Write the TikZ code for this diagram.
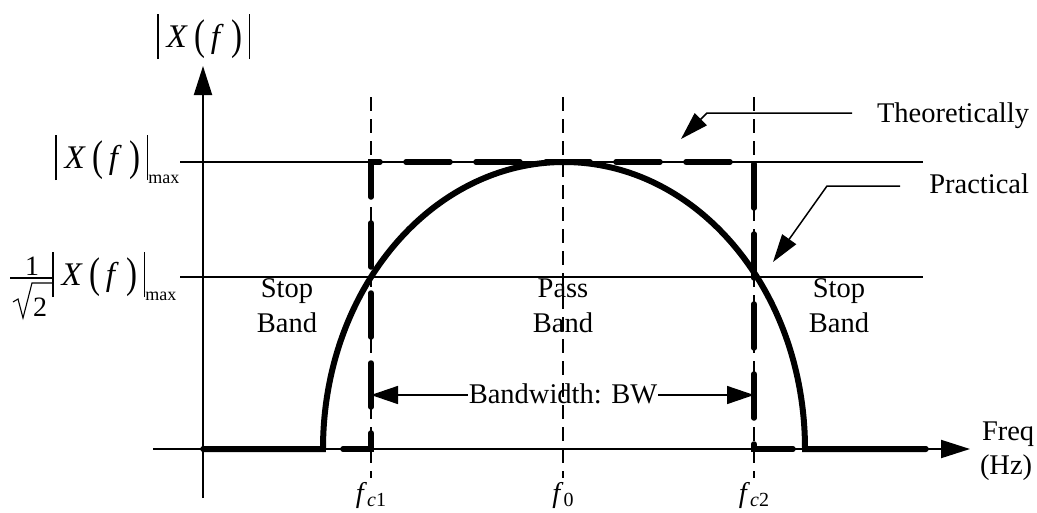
\documentclass[tikz,border=0pt]{standalone}
\usepackage{fontspec}
\setmainfont{Liberation Serif}
\usetikzlibrary{arrows.meta}
\newcommand\absbar{\rule[-12pt]{1.6pt}{45pt}}
\newcommand\bigpar[1]{\raisebox{-2pt}{\scalebox{1}[1.3]{#1}}}
\newcommand\XF{\absbar\hspace{8pt}\textit{X}\hspace{7pt}\bigpar{(}\hspace{5pt}\textit{f}\hspace{8pt}\bigpar{)}\hspace{6pt}\absbar}
\newcommand\mx{\raisebox{-15pt}{\fontsize{18}{18}\selectfont max}}
\tikzset{
  txt/.style={font=\fontsize{28.5}{35}\selectfont, inner sep=0pt, outer sep=0pt},
  big/.style={font=\fontsize{33}{33}\selectfont, inner sep=0pt, outer sep=0pt},
  thinline/.style={line width=1.5pt},
  axis/.style={line width=2pt, -{Triangle[length=29pt,width=18pt]}},
  guide/.style={line width=1.3pt, dash pattern=on 14pt off 8pt},
  theo/.style={line width=5.5pt, dash pattern=on 44pt off 26pt, line cap=round, line join=miter},
  prac/.style={line width=6pt, line join=miter},
  leader/.style={line width=1.5pt, -{Triangle[length=28pt,width=17pt]}},
  bwarrow/.style={line width=1.5pt, {Triangle[length=27pt,width=18pt]}-{Triangle[length=27pt,width=18pt]}},
}
\begin{document}
\begin{tikzpicture}[x=1pt,y=-1pt]
\useasboundingbox (0,0) rectangle (1037,512);
% coordinates
\coordinate (ybot) at (203,498);
\coordinate (ytop) at (203,66);
\coordinate (xl) at (153,449);
\coordinate (xr) at (970,449);
\coordinate (hmaxl) at (180,162);
\coordinate (hmaxr) at (923,162);
\coordinate (hlowl) at (180,277);
\coordinate (hlowr) at (923,277);
\coordinate (c1t) at (371,97);
\coordinate (c1b) at (371,478);
\coordinate (c0t) at (563,97);
\coordinate (c0b) at (563,478);
\coordinate (c2t) at (754,97);
\coordinate (c2b) at (754,478);
\coordinate (bwl) at (371,395);
\coordinate (bwr) at (754,395);
% horizontal reference lines
\draw[thinline] (hmaxl) -- (hmaxr);
\draw[thinline] (hlowl) -- (hlowr);
% axes
\draw[axis] (ybot) -- (ytop);
\draw[axis] (xl) -- (xr);
% bandwidth arrow
\draw[bwarrow] (bwl) -- (bwr);
\node[txt, fill=white, inner xsep=1pt, anchor=base] (bw) at (563,403) {Bandwidth: BW};
% text labels
\node[txt, anchor=base] (stopl1) at (287,297) {Stop};
\node[txt, anchor=base] (stopl2) at (287,332) {Band};
\node[txt, anchor=base] (pass1) at (563,297) {Pass};
\node[txt, anchor=base] (pass2) at (563,332) {Band};
\node[txt, anchor=base] (stopr1) at (839,297) {Stop};
\node[txt, anchor=base] (stopr2) at (839,332) {Band};
\node[txt, anchor=base west] (freq) at (982,440) {Freq};
\node[txt, anchor=base west] (hz) at (980,474) {(Hz)};
\node[txt, anchor=base east] (theo) at (1029,122) {Theoretically};
\node[txt, anchor=base east] (prac) at (1029,193) {Practical};
% frequency labels
\node[txt, anchor=base] (fc1) at (371,502) {\textit{f}\raisebox{-4pt}{\fontsize{20}{20}\selectfont\textit{c}1}};
\node[txt, anchor=base] (f0) at (563,502) {\textit{f}\raisebox{-4pt}{\fontsize{20}{20}\selectfont 0}};
\node[txt, anchor=base] (fc2) at (754,502) {\textit{f}\raisebox{-4pt}{\fontsize{20}{20}\selectfont\textit{c}2}};
% magnitude labels
\node[big, anchor=base west] (ylab) at (157,47) {\XF};
\node[big, anchor=base west] (maxlab) at (55,168) {\XF\mx};
\node[big, anchor=base west] (lowlab) at (52,285) {\XF\mx};
\node[font=\fontsize{28}{28}\selectfont, inner sep=0pt, anchor=base] (one) at (32,275) {1};
\node[font=\fontsize{28}{28}\selectfont, inner sep=0pt, anchor=base west] (two) at (33,316) {2};
\draw[line width=1.3pt] (10,278) -- (53,278);
\draw[line width=1.1pt, line join=miter] (13,302) -- (18,299) -- (23,318) -- (32,283) -- (52,283);
% guide dashed verticals
\draw[guide] (c1t) -- (c1b);
\draw[guide] (c0t) -- (c0b);
\draw[guide] (c2t) -- (c2b);
% practical curve
\draw[prac] (203,449) -- (323,449) arc[start angle=180, end angle=0, x radius=241pt, y radius=287pt] -- (926,449);
% theoretical ideal response
\draw[theo] (203,449) -- (371,449) -- (371,162) -- (754,162) -- (754,449) -- (926,449);
% leader arrows
\coordinate (tl1) at (852,113);
\coordinate (tl2) at (707,113);
\coordinate (tl3) at (681,139);
\draw[leader] (tl1) -- (tl2) -- (tl3);
\coordinate (pl1) at (900,186);
\coordinate (pl2) at (827,186);
\coordinate (pl3) at (773,262);
\draw[leader] (pl1) -- (pl2) -- (pl3);
\end{tikzpicture}
\end{document}
